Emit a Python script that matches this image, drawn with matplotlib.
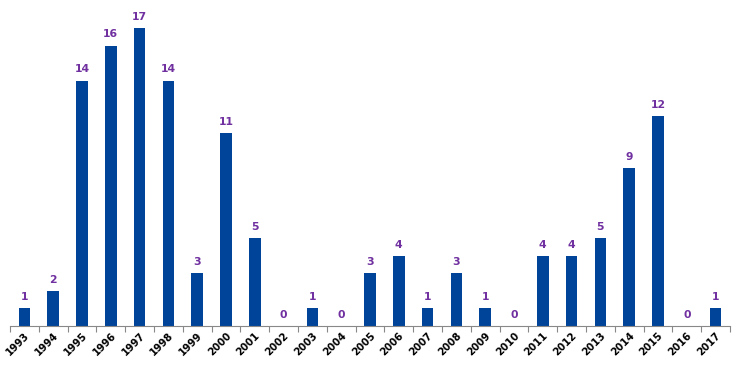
import matplotlib
matplotlib.use("Agg")
import matplotlib.pyplot as plt
import numpy as np

years = [str(y) for y in range(1993, 2018)]
counts = [1, 2, 14, 16, 17, 14, 3, 11, 5, 0, 1, 0, 3, 4, 1, 3, 1, 0,
          4, 4, 5, 9, 12, 0, 1]

BAR_COLOR = "#00449A"
LABEL_COLOR = "#7030A0"

fig = plt.figure(figsize=(7.43, 3.68), dpi=100)
ax = fig.add_axes([10 / 743, 42 / 368, 720 / 743, 326 / 368])

x = np.arange(len(years))
ax.bar(x, counts, width=0.4, color=BAR_COLOR)
for xi, v in zip(x, counts):
    ax.text(xi, v + 0.35, str(v), ha="center", va="bottom",
            fontsize=7.8, fontweight="bold", color=LABEL_COLOR)

ax.set_xlim(-0.5, len(years) - 0.5)
ax.set_ylim(0, 18.6)
ax.set_yticks([])
for side in ("top", "right", "left"):
    ax.spines[side].set_visible(False)
ax.spines["bottom"].set_color("#888888")

# tick marks between categories, labels at bar centres
ax.set_xticks(np.arange(len(years) + 1) - 0.5)
ax.set_xticklabels([])
ax.tick_params(axis="x", which="major", length=4, color="#888888")
ax.set_xticks(x, minor=True)
ax.set_xticklabels(years, minor=True, rotation=45, ha="right",
                   rotation_mode="anchor", fontsize=7.3, fontweight="bold")
ax.tick_params(axis="x", which="minor", length=0, pad=3)

fig.savefig("out.png", dpi=100)
